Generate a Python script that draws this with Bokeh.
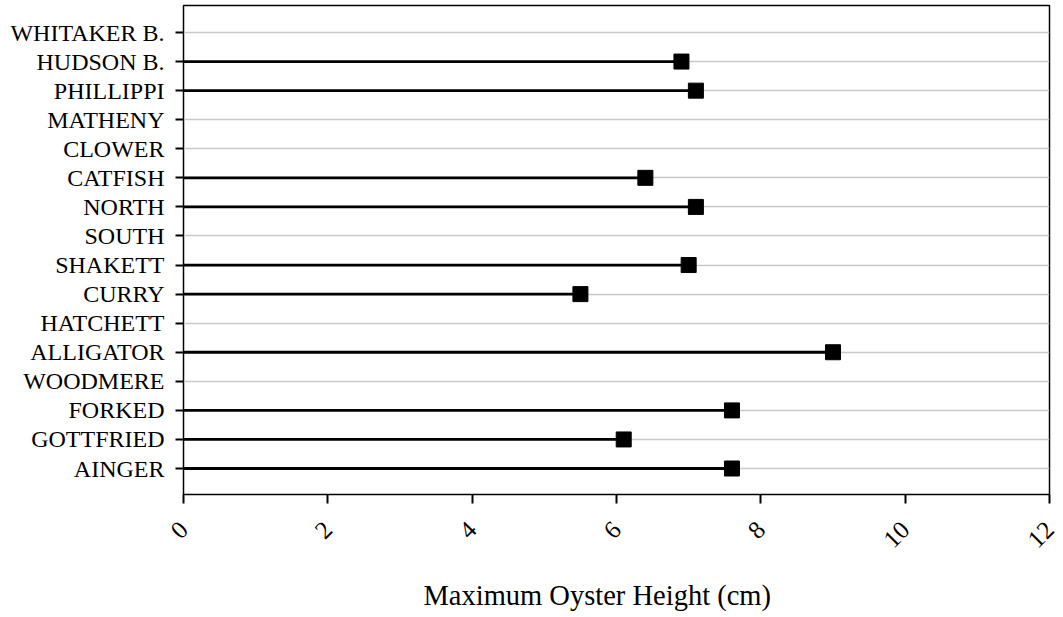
import math
from bokeh.plotting import figure
from bokeh.models import Range1d, FixedTicker, Title, ColumnDataSource
from bokeh.embed import file_html
from bokeh.resources import INLINE

# Categories from bottom to top
sites = ["AINGER", "GOTTFRIED", "FORKED", "WOODMERE", "ALLIGATOR", "HATCHETT",
         "CURRY", "SHAKETT", "SOUTH", "NORTH", "CATFISH", "CLOWER", "MATHENY",
         "PHILLIPPI", "HUDSON B.", "WHITAKER B."]
max_height = [7.6, 6.1, 7.6, None, 9.0, None,
              5.5, 7.0, None, 7.1, 6.4, None, None,
              7.1, 6.9, None]
x_ticks = [0, 2, 4, 6, 8, 10, 12]
x_label = "Maximum Oyster Height (cm)"

FONT = "Liberation Serif"

pos = list(range(len(sites)))
ys = [i for i, v in zip(pos, max_height) if v is not None]
xs = [v for v in max_height if v is not None]
zeros = [0] * len(xs)
src = ColumnDataSource(dict(y=ys, x=xs, x0=zeros))

p = figure(width=1063, height=617, output_backend="svg", toolbar_location=None,
           x_range=Range1d(0, 12), y_range=Range1d(-0.894, 15.929),
           min_border_left=183, min_border_right=14, min_border_top=5,
           min_border_bottom=10)
p.frame_width = 866
p.frame_height = 489

p.outline_line_color = "black"
p.outline_line_width = 1.5

p.xgrid.visible = False
p.ygrid.grid_line_color = "#c8c8c8"
p.ygrid.grid_line_width = 1.5

p.segment(x0="x0", y0="y", x1="x", y1="y", source=src, line_color="black", line_width=2.8)
p.scatter(x="x", y="y", source=src, marker="square", size=15, fill_color="black", line_color="black")

yax = p.yaxis[0]
yax.ticker = FixedTicker(ticks=pos)
yax.major_label_overrides = {i: s for i, s in enumerate(sites)}
yax.minor_tick_line_color = None
yax.major_tick_in = 0
yax.major_tick_out = 8
yax.major_tick_line_width = 2
yax.major_tick_line_color = "black"
yax.axis_line_color = None
yax.major_label_text_font = FONT
yax.major_label_text_font_size = "24px"
yax.major_label_text_color = "black"
yax.major_label_standoff = 11

xax = p.xaxis[0]
xax.ticker = FixedTicker(ticks=x_ticks)
xax.minor_tick_line_color = None
xax.major_tick_in = 0
xax.major_tick_out = 9
xax.major_tick_line_width = 2
xax.major_tick_line_color = "black"
xax.axis_line_color = None
xax.major_label_text_font = FONT
xax.major_label_text_font_size = "25px"
xax.major_label_text_color = "black"
xax.major_label_orientation = math.pi / 4
xax.major_label_standoff = 22

t = Title(text=x_label, align="left", offset=240, standoff=38,
          text_font=FONT, text_font_size="28.5px", text_font_style="normal",
          text_color="black")
p.add_layout(t, "below")

open("out.html", "w").write(file_html(p, INLINE))
